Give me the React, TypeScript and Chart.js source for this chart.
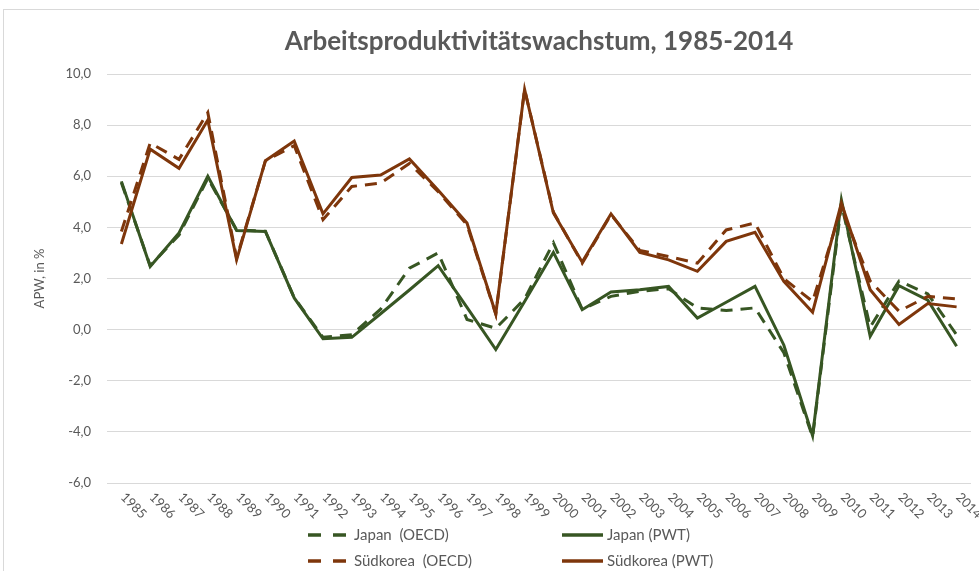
import React, { useEffect, useRef } from "react";
import { Chart, registerables } from "chart.js";

Chart.register(...registerables);

const years = [
  "1985", "1986", "1987", "1988", "1989", "1990", "1991", "1992", "1993", "1994",
  "1995", "1996", "1997", "1998", "1999", "2000", "2001", "2002", "2003", "2004",
  "2005", "2006", "2007", "2008", "2009", "2010", "2011", "2012", "2013", "2014",
];

const japanOECD = [
  5.75, 2.5, 3.7, 5.92, 3.9, 3.85, 1.25, -0.3, -0.2, 0.8,
  2.4, 3.0, 0.4, 0.05, 1.2, 3.4, 0.8, 1.3, 1.5, 1.6,
  0.85, 0.75, 0.85, -0.9, -4.2, 4.9, 0.1, 1.9, 1.4, -0.2,
];
const japanPWT = [
  5.8, 2.47, 3.78, 6.0, 3.88, 3.84, 1.24, -0.36, -0.3, 0.62,
  1.55, 2.5, 0.87, -0.78, 1.1, 3.02, 0.78, 1.47, 1.56, 1.69,
  0.45, 1.07, 1.69, -0.6, -4.15, 5.08, -0.26, 1.72, 1.15, -0.65,
];
const koreaOECD = [
  3.84, 7.3, 6.66, 8.49, 2.8, 6.6, 7.2, 4.3, 5.6, 5.73,
  6.5, 5.4, 4.1, 0.6, 9.4, 4.6, 2.6, 4.5, 3.1, 2.86,
  2.6, 3.9, 4.17, 2.0, 1.1, 4.75, 1.9, 0.72, 1.3, 1.2,
];
const koreaPWT = [
  3.35, 7.06, 6.31, 8.2, 2.73, 6.61, 7.38, 4.53, 5.95, 6.05,
  6.68, 5.45, 4.17, 0.62, 9.4, 4.56, 2.64, 4.53, 3.02, 2.73,
  2.28, 3.45, 3.81, 1.89, 0.68, 4.95, 1.56, 0.2, 1.02, 0.89,
];

const seriesLabels = ["Japan  (OECD)", "Japan (PWT)", "Südkorea  (OECD)", "Südkorea (PWT)"];
const titleText = "Arbeitsproduktivitätswachstum, 1985-2014";
const yAxisTitle = "APW, in %";

const GREEN = "#375623";
const BROWN = "#7E360B";
const TEXT = "#595959";
const GRID = "#d9d9d9";
const FONT = "Lato, 'Open Sans', sans-serif";
const DASH = [12, 8];

const legendPositions = [
  { x: 308, y: 535, lineW: 39, gap: 7 },
  { x: 562, y: 535, lineW: 41, gap: 4 },
  { x: 308, y: 561, lineW: 39, gap: 7 },
  { x: 562, y: 561, lineW: 41, gap: 4 },
];

const customDraw = {
  id: "customDraw",
  afterDraw(chart: any) {
    const ctx = chart.ctx;
    const xScale = chart.scales.x;
    const area = chart.chartArea;
    // rotated x labels (going down-right)
    ctx.save();
    ctx.fillStyle = TEXT;
    ctx.font = `13px ${FONT}`;
    ctx.textAlign = "left";
    ctx.textBaseline = "middle";
    years.forEach((label, i) => {
      const x = xScale.getPixelForValue(i);
      ctx.save();
      ctx.translate(x + 1.5, area.bottom + 12);
      ctx.rotate(Math.PI / 4);
      ctx.fillText(label, 0, 0);
      ctx.restore();
    });
    ctx.restore();

    // legend
    ctx.save();
    ctx.font = `15px ${FONT}`;
    ctx.textAlign = "left";
    ctx.textBaseline = "middle";
    chart.data.datasets.forEach((ds: any, i: number) => {
      const p = legendPositions[i];
      ctx.save();
      ctx.strokeStyle = ds.borderColor;
      ctx.lineWidth = 3.5;
      ctx.setLineDash(ds.borderDash && ds.borderDash.length ? [13, 12] : []);
      ctx.beginPath();
      ctx.moveTo(p.x, p.y);
      ctx.lineTo(p.x + p.lineW, p.y);
      ctx.stroke();
      ctx.restore();
      ctx.fillStyle = TEXT;
      ctx.fillText(ds.label, p.x + p.lineW + p.gap, p.y);
    });
    ctx.restore();
  },
};

export default function App() {
  const canvasRef = useRef<HTMLCanvasElement | null>(null);

  useEffect(() => {
    if (!canvasRef.current) return;
    const chart = new Chart(canvasRef.current, {
      type: "line",
      data: {
        labels: years,
        datasets: [
          {
            label: seriesLabels[0],
            data: japanOECD,
            borderColor: GREEN,
            borderWidth: 3,
            borderDash: DASH,
            pointRadius: 0,
            tension: 0,
            order: 3,
          },
          {
            label: seriesLabels[1],
            data: japanPWT,
            borderColor: GREEN,
            borderWidth: 3,
            pointRadius: 0,
            tension: 0,
            order: 2,
          },
          {
            label: seriesLabels[2],
            data: koreaOECD,
            borderColor: BROWN,
            borderWidth: 3,
            borderDash: DASH,
            pointRadius: 0,
            tension: 0,
            order: 1,
          },
          {
            label: seriesLabels[3],
            data: koreaPWT,
            borderColor: BROWN,
            borderWidth: 3,
            pointRadius: 0,
            tension: 0,
            order: 0,
          },
        ],
      },
      options: {
        animation: false,
        responsive: true,
        maintainAspectRatio: false,
        layout: { padding: { top: 26, left: 0, right: 8, bottom: 0 } },
        plugins: {
          legend: { display: false },
          tooltip: { enabled: false },
          title: {
            display: true,
            fullSize: false,
            text: titleText,
            color: TEXT,
            font: { family: FONT, size: 26, weight: "bold", lineHeight: 1.2 },
            padding: { top: 0, bottom: 16.8 },
          },
        },
        scales: {
          x: {
            type: "category",
            offset: true,
            grid: { display: false, drawTicks: false },
            border: { display: false },
            ticks: { display: false },
            afterFit: (scale: any) => {
              scale.height = 88;
            },
          },
          y: {
            min: -6,
            max: 10,
            grid: { color: GRID, lineWidth: 1, drawTicks: false },
            border: { display: false },
            ticks: {
              stepSize: 2,
              padding: 16,
              color: TEXT,
              font: { family: FONT, size: 13 },
              callback: (v: any) => Number(v).toFixed(1).replace(".", ","),
            },
            title: {
              display: true,
              text: yAxisTitle,
              color: TEXT,
              font: { family: FONT, size: 13 },
              padding: { top: 32, bottom: 0 },
            },
            afterFit: (scale: any) => {
              scale.width = 107;
            },
          },
        },
      },
      plugins: [customDraw],
    });
    return () => chart.destroy();
  }, []);

  return (
    <div style={{ position: "fixed", left: 0, top: 0, width: 979, height: 571, background: "#fff", overflow: "hidden" }}>
      <div
        style={{
          position: "absolute",
          left: 3,
          top: 9,
          width: 1000,
          height: 700,
          border: `1px solid ${GRID}`,
        }}
      />
      <div style={{ position: "absolute", left: 0, top: 0, width: 979, height: 571 }}>
        <canvas ref={canvasRef} />
      </div>
    </div>
  );
}
